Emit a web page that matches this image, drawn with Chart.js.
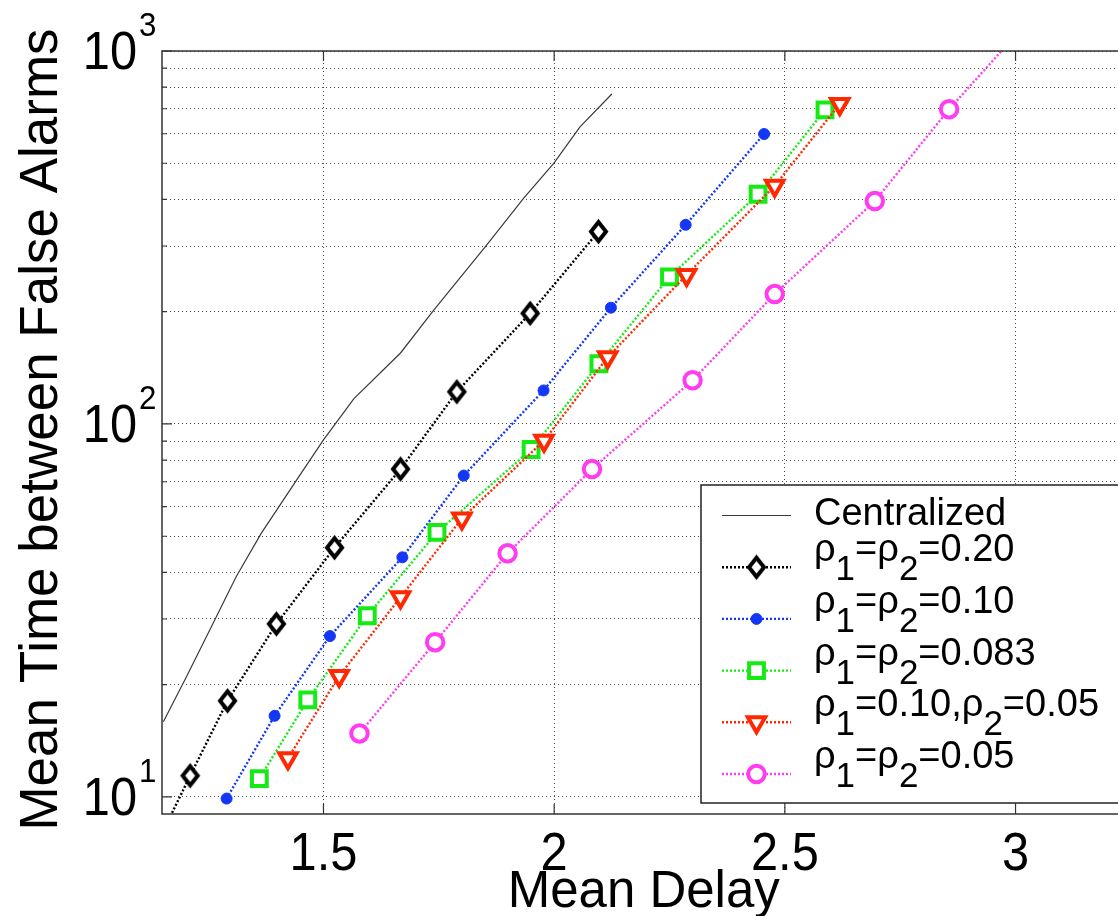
<!DOCTYPE html>
<html>
<head>
<meta charset="utf-8">
<script src="https://cdn.jsdelivr.net/npm/chart.js@4.4.0/dist/chart.umd.min.js"></script>
<style>
  html, body { margin: 0; padding: 0; background: #fff; overflow: hidden; }
  #quadro { width: 1118px; height: 916px; overflow: hidden; }
</style>
</head>
<body>
<div id="quadro"><canvas id="grafico" width="1150" height="916"></canvas></div>
<script>
// mean delay (x) vs mean time between false alarms (y), one pair of arrays per curve
const centralX = [1.153, 1.203, 1.257, 1.311, 1.365, 1.442, 1.500, 1.566, 1.667, 1.739, 1.854, 1.934, 1.999, 2.056, 2.125];
const centralY = [15.9, 21.0, 28.6, 39.0, 50.9, 70.8, 90.6, 117, 155, 202, 302, 403, 500, 626, 767];

const rho20X = [1.13, 1.211, 1.292, 1.398, 1.524, 1.667, 1.789, 1.948, 2.096];
const rho20Y = [7.1, 11.4, 18.1, 29.1, 46.6, 75.7, 122, 198, 328];

const rho10X = [1.290, 1.394, 1.514, 1.671, 1.804, 1.977, 2.123, 2.285, 2.455];
const rho10Y = [9.9, 16.5, 27.0, 43.9, 72.7, 123, 205, 342, 599];

const rho083X = [1.361, 1.466, 1.595, 1.746, 1.950, 2.097, 2.250, 2.442, 2.587];
const rho083Y = [11.2, 18.2, 30.6, 51.2, 85.4, 145, 248, 413, 695];

const mistoX = [1.423, 1.534, 1.667, 1.800, 1.978, 2.116, 2.287, 2.478, 2.619];
const mistoY = [12.7, 21.1, 34.3, 55.8, 90.2, 151, 251, 435, 721];

const rho05X = [1.578, 1.742, 1.899, 2.082, 2.300, 2.478, 2.695, 2.856, 3.04];
const rho05Y = [14.8, 26.0, 45.0, 75.7, 131, 223, 396, 698, 1250];

// legend text, "_x" = subscript x
const legendas = ['Centralized', 'ρ_1=ρ_2=0.20', 'ρ_1=ρ_2=0.10', 'ρ_1=ρ_2=0.083', 'ρ_1=0.10,ρ_2=0.05', 'ρ_1=ρ_2=0.05'];

const xTicks = [1.5, 2, 2.5, 3];
const yDecadas = [10, 100, 1000];
const tituloX = 'Mean Delay';
const tituloY = 'Mean Time between False Alarms';

// log grid: every 1..9 x 10^n inside the range
let yGrade = [];
yDecadas.forEach(d => {
  for (let k = 1; k <= 9; k++) {
    if (d * k <= 1000) yGrade.push(d * k);
  }
});

const FONTE = '"Liberation Sans", Arial, sans-serif';

function pontos(xs, ys) {
  return xs.map((v, i) => ({ x: v, y: ys[i] }));
}

// matlab style diamond, taller than wide
function diamante(w, h, lw, cor) {
  let c = document.createElement('canvas');
  c.width = w + lw * 4;
  c.height = h + lw * 4;
  let g = c.getContext('2d');
  let cx = c.width / 2, cy = c.height / 2;
  g.strokeStyle = cor;
  g.fillStyle = '#fff';
  g.lineWidth = lw;
  g.beginPath();
  g.moveTo(cx, cy - h / 2);
  g.lineTo(cx + w / 2, cy);
  g.lineTo(cx, cy + h / 2);
  g.lineTo(cx - w / 2, cy);
  g.closePath();
  g.fill();
  g.stroke();
  return c;
}

function serie(xs, ys, cor, extra) {
  return Object.assign({
    data: pontos(xs, ys),
    showLine: true,
    fill: false,
    tension: 0,
    clip: 0,
    borderColor: cor,
    borderWidth: 2.4,
    borderDash: [2, 2],
    pointBorderColor: cor,
    pointBackgroundColor: '#fff',
    pointBorderWidth: 4
  }, extra);
}

const datasets = [
  serie(centralX, centralY, '#3a3a3a', { borderWidth: 1.2, borderDash: [], pointRadius: 0, pointBorderWidth: 0, order: 6 }),
  serie(rho20X, rho20Y, '#000000', { pointStyle: diamante(15, 19, 4, '#000'), pointRadius: 10, order: 5 }),
  serie(rho10X, rho10Y, 'rgb(20,55,245)', { pointStyle: 'circle', pointRadius: 5.5, pointBorderWidth: 1, pointBackgroundColor: 'rgb(20,55,245)', order: 4 }),
  serie(rho083X, rho083Y, 'rgb(20,235,20)', { pointStyle: 'rect', pointRadius: 10.5, order: 3 }),
  serie(mistoX, mistoY, 'rgb(255,40,0)', { pointStyle: 'triangle', pointRotation: 180, pointRadius: 10, order: 2 }),
  serie(rho05X, rho05Y, 'rgb(255,60,240)', { pointStyle: 'circle', pointRadius: 8.25, order: 1 })
];

// text with horizontal squeeze, axes labels are a bit narrow
function texto(ctx, s, x, y, esc) {
  ctx.save();
  ctx.translate(x, y);
  ctx.scale(esc, 1);
  ctx.fillText(s, 0, 0);
  ctx.restore();
}

function escreveTex(ctx, s, x, base, tam, tamSub, desce) {
  let partes = s.split(/_(.)/);
  let cx = x;
  partes.forEach((p, i) => {
    let sub = i % 2 == 1;
    ctx.font = (sub ? tamSub : tam) + 'px ' + FONTE;
    ctx.fillText(p, cx, base + (sub ? desce : 0));
    cx += ctx.measureText(p).width;
  });
}

const eixosMatlab = {
  id: 'eixosMatlab',
  afterDatasetsDraw(chart) {
    const { ctx, chartArea: a, scales } = chart;
    ctx.save();
    ctx.strokeStyle = '#333';
    ctx.lineWidth = 1.5;
    ctx.strokeRect(a.left, a.top, a.right - a.left, a.bottom - a.top);

    // tick marks pointing inwards
    ctx.lineWidth = 1.2;
    ctx.beginPath();
    xTicks.forEach(v => {
      let px = scales.x.getPixelForValue(v);
      ctx.moveTo(px, a.bottom); ctx.lineTo(px, a.bottom - 10);
      ctx.moveTo(px, a.top); ctx.lineTo(px, a.top + 10);
    });
    yGrade.forEach(v => {
      let py = scales.y.getPixelForValue(v);
      let len = yDecadas.includes(v) ? 10 : 5;
      ctx.moveTo(a.left, py); ctx.lineTo(a.left + len, py);
      ctx.moveTo(a.right, py); ctx.lineTo(a.right - len, py);
    });
    ctx.stroke();
    ctx.restore();
  },
  afterDraw(chart) {
    const { ctx, chartArea: a, scales } = chart;
    ctx.save();
    ctx.fillStyle = '#000';
    ctx.textBaseline = 'alphabetic';

    // x tick labels
    ctx.font = '53px ' + FONTE;
    ctx.textAlign = 'center';
    xTicks.forEach(v => texto(ctx, String(v), scales.x.getPixelForValue(v), a.bottom + 56, 0.92));

    // y tick labels 10^n
    yDecadas.forEach(v => {
      let py = scales.y.getPixelForValue(v);
      ctx.font = '53px ' + FONTE;
      ctx.textAlign = 'right';
      texto(ctx, '10', a.left - 25, py + 18, 0.92);
      ctx.font = '34px ' + FONTE;
      ctx.textAlign = 'left';
      texto(ctx, String(Math.round(Math.log10(v))), a.left - 23, py - 15, 0.92);
    });

    // axis titles
    ctx.textAlign = 'center';
    ctx.font = '51px ' + FONTE;
    ctx.fillText(tituloX, (a.left + a.right) / 2 - 5, a.bottom + 93);
    ctx.save();
    ctx.translate(57, (a.top + a.bottom) / 2 - 3);
    ctx.rotate(-Math.PI / 2);
    ctx.font = '53px ' + FONTE;
    ctx.fillText(tituloY, 0, 0);
    ctx.restore();

    // legend box
    let lx = 701, ly = 485, lr = a.right - 12, lb = a.bottom - 11;
    ctx.fillStyle = '#fff';
    ctx.fillRect(lx, ly, lr - lx, lb - ly);
    ctx.strokeStyle = '#222';
    ctx.lineWidth = 1.5;
    ctx.strokeRect(lx, ly, lr - lx, lb - ly);

    chart.data.datasets.forEach((ds, i) => {
      let ry = 515.5 + i * 51.7;
      ctx.save();
      ctx.strokeStyle = ds.borderColor;
      ctx.lineWidth = ds.borderWidth;
      ctx.setLineDash(ds.borderDash);
      ctx.beginPath();
      ctx.moveTo(722, ry);
      ctx.lineTo(791, ry);
      ctx.stroke();
      ctx.setLineDash([]);
      if (ds.pointRadius > 0) {
        ctx.strokeStyle = ds.pointBorderColor;
        ctx.fillStyle = ds.pointBackgroundColor;
        ctx.lineWidth = ds.pointBorderWidth;
        Chart.helpers.drawPoint(ctx, {
          pointStyle: ds.pointStyle,
          radius: ds.pointRadius,
          rotation: ds.pointRotation || 0,
          borderWidth: ds.pointBorderWidth
        }, 756.5, ry);
      }
      ctx.restore();

      ctx.fillStyle = '#000';
      ctx.textAlign = 'left';
      let temSub = legendas[i].indexOf('_') >= 0;
      escreveTex(ctx, legendas[i], 814, temSub ? ry - 6 : ry + 9.5, 38, 35, 19);
    });
    ctx.restore();
  }
};

new Chart(document.getElementById('grafico'), {
  type: 'line',
  data: { datasets: datasets },
  options: {
    responsive: false,
    animation: false,
    devicePixelRatio: 1,
    layout: { padding: { left: 162, top: 51, right: 13, bottom: 102 } },
    plugins: { legend: { display: false }, tooltip: { enabled: false } },
    scales: {
      x: {
        type: 'linear',
        min: 1.15,
        max: 3.26,
        ticks: { display: false },
        grid: { drawTicks: false, color: 'rgba(0,0,0,0.7)', lineWidth: 1 },
        border: { display: false, dash: [1, 3] },
        afterBuildTicks: s => { s.ticks = xTicks.map(v => ({ value: v })); },
        afterFit: s => { s.height = 0; }
      },
      y: {
        type: 'logarithmic',
        min: 9,
        max: 1000,
        ticks: { display: false },
        grid: { drawTicks: false, color: 'rgba(0,0,0,0.7)', lineWidth: 1 },
        border: { display: false, dash: [1, 3] },
        afterBuildTicks: s => { s.ticks = yGrade.map(v => ({ value: v })); },
        afterFit: s => { s.width = 0; }
      }
    }
  },
  plugins: [eixosMatlab]
});
</script>
</body>
</html>
